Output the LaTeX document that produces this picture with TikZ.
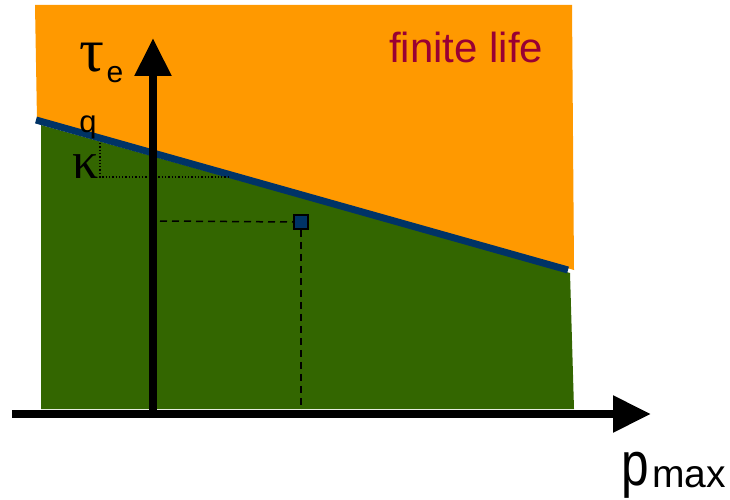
\documentclass[tikz,border=0pt]{standalone}
\usepackage{fontspec}
\setmainfont{Liberation Sans}
\newfontfamily\greekfont{Liberation Serif}
\usetikzlibrary{arrows.meta, positioning}
\definecolor{lifeorange}{HTML}{FF9900}
\definecolor{safegreen}{HTML}{336600}
\definecolor{limitblue}{HTML}{003366}
\definecolor{lifered}{HTML}{990033}

\begin{document}
\begin{tikzpicture}[
  x=1pt, y=-1pt,
  axis/.style={line width=8.5pt,-{Triangle[length=38pt,width=35pt]}},
  limit/.style={limitblue,line width=7pt},
  guide/.style={dotted,line width=1.3pt},
  proj/.style={dashed,line width=1.5pt,dash pattern=on 7pt off 5pt},
  pointbox/.style={draw=black,fill=limitblue,line width=1.8pt,minimum size=14pt,inner sep=0pt},
  lbl/.style={inner sep=0pt}
]
\useasboundingbox (0,0) rectangle (730,500);
% regions
\fill[lifeorange] (35,5) -- (572,5) -- (574,270) -- (37,120) -- cycle;
\fill[safegreen] (41,125) -- (570,273) -- (574,409) -- (41,409) -- cycle;
% limit line
\coordinate (lstart) at (36,120);
\coordinate (lend) at (568,270);
\draw[limit] (lstart) -- (lend);
% q and kappa guides
\coordinate (qpt) at (100,143);
\coordinate (kcorner) at (100,177);
\coordinate (kend) at (228,177);
\draw[guide] (qpt) -- (kcorner) -- (kend);
% operating point
\node[pointbox] (pt) at (301,222) {};
\coordinate (hstart) at (160,221);
\coordinate (vfoot) at (301,410);
\draw[proj] (hstart) -- (pt.west);
\draw[proj] (pt.south) -- (vfoot);
% axes
\coordinate (origin) at (153,414);
\coordinate (xstart) at (12,414);
\coordinate (xtip) at (651,414);
\coordinate (ybase) at (153,418);
\coordinate (ytip) at (153,38);
\draw[axis] (xstart) -- (xtip);
\draw[axis] (ybase) -- (ytip);
% labels
\node[lbl,font=\fontsize{31}{31}\selectfont,anchor=base] (qlbl) at (88,132) {q};
\node[lbl,font=\fontsize{52}{52}\selectfont\greekfont,anchor=base] (klbl) at (86,178) {κ};
\node[lbl,font=\fontsize{62}{62}\selectfont\greekfont] (tau) at (92,58) {τ};
\node[lbl,font=\fontsize{30}{30}\selectfont] (tausub) at (115,75) {e};
\node[lbl,font=\fontsize{42}{42}\selectfont,text=lifered,anchor=base west] (finite) at (389,63) {finite life};
\node[lbl,font=\fontsize{62}{62}\selectfont,anchor=base east] (plbl) at (649,485) {\scalebox{0.8}[1]{p}};
\node[lbl,font=\fontsize{39}{39}\selectfont,anchor=base west] (maxlbl) at (652,487) {max};
\end{tikzpicture}
\end{document}
